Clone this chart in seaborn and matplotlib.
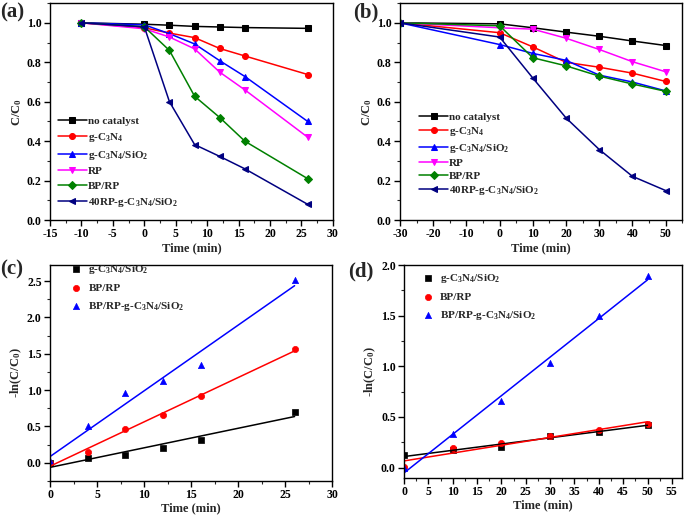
import numpy as np
import pandas as pd
import seaborn as sns
import matplotlib
matplotlib.use("Agg")
import matplotlib.pyplot as plt
from matplotlib.ticker import MultipleLocator

sns.set_theme(style="ticks")
plt.rcParams['font.family'] = ['Liberation Serif', 'DejaVu Serif']
plt.rcParams['font.weight'] = 'bold'
plt.rcParams['axes.labelweight'] = 'bold'
plt.rcParams['axes.unicode_minus'] = False
plt.rcParams['mathtext.fontset'] = 'custom'
plt.rcParams['mathtext.rm'] = 'Liberation Serif:bold'
plt.rcParams['mathtext.it'] = 'Liberation Serif:bold'
plt.rcParams['mathtext.bf'] = 'Liberation Serif:bold'
plt.rcParams['mathtext.default'] = 'rm'

# ---------------- data ----------------
labels_ab = ["no catalyst", "g-C$_3$N$_4$", "g-C$_3$N$_4$/SiO$_2$", "RP", "BP/RP",
             "40RP-g-C$_3$N$_4$/SiO$_2$"]
colors_ab = ["#000000", "#FF0000", "#0000FF", "#FF00FF", "#008000", "#000080"]
markers_ab = ["s", "o", "^", "v", "D", "<"]

time_a = [-10, 0, 4, 8, 12, 16, 26]
a_no_catalyst = [1.0, 0.993, 0.988, 0.982, 0.979, 0.976, 0.972]
a_gcn = [1.0, 0.975, 0.948, 0.925, 0.870, 0.832, 0.738]
a_gcn_sio2 = [1.0, 0.990, 0.945, 0.893, 0.808, 0.728, 0.500]
a_rp = [1.0, 0.970, 0.928, 0.868, 0.750, 0.660, 0.420]
a_bprp = [1.0, 0.980, 0.860, 0.628, 0.520, 0.400, 0.210]
a_40rp = [1.0, 0.980, 0.600, 0.383, 0.323, 0.260, 0.080]

time_b = [-30, 0, 10, 20, 30, 40, 50]
b_no_catalyst = [1.0, 0.995, 0.975, 0.953, 0.932, 0.908, 0.885]
b_gcn = [1.0, 0.950, 0.878, 0.800, 0.775, 0.745, 0.703]
b_gcn_sio2 = [1.0, 0.890, 0.845, 0.810, 0.735, 0.700, 0.655]
b_rp = [1.0, 0.975, 0.968, 0.922, 0.865, 0.803, 0.752]
b_bprp = [1.0, 0.985, 0.823, 0.782, 0.730, 0.690, 0.653]
b_40rp = [1.0, 0.928, 0.720, 0.518, 0.358, 0.222, 0.150]

labels_cd = ["g-C$_3$N$_4$/SiO$_2$", "BP/RP", "BP/RP-g-C$_3$N$_4$/SiO$_2$"]
colors_cd = ["#000000", "#FF0000", "#0000FF"]
markers_cd = ["s", "o", "^"]

time_c = [0, 4, 8, 12, 16, 26]
c_gcn_sio2 = [0.0, 0.06, 0.11, 0.21, 0.32, 0.70]
c_bprp = [0.0, 0.15, 0.46, 0.655, 0.92, 1.56]
c_bprp_gcn = [0.02, 0.51, 0.96, 1.13, 1.35, 2.51]

time_d = [0, 10, 20, 30, 40, 50]
d_gcn_sio2 = [0.12, 0.17, 0.205, 0.31, 0.355, 0.42]
d_bprp = [0.01, 0.19, 0.245, 0.31, 0.37, 0.43]
d_bprp_gcn = [0.0, 0.33, 0.655, 1.03, 1.50, 1.89]

# ---------------- figure ----------------
fig = plt.figure(figsize=(6.85, 5.18), dpi=100)
ax_a = fig.add_axes([0.073, 0.575, 0.413, 0.419])
ax_b = fig.add_axes([0.584, 0.575, 0.412, 0.419])
ax_c = fig.add_axes([0.073, 0.0714, 0.412, 0.417])
ax_d = fig.add_axes([0.590, 0.0778, 0.405, 0.4106])

TICK_FS = 8.5
LAB_FS = 9


def style_axis(ax, xmaj, ymaj):
    for s in ax.spines.values():
        s.set_linewidth(1.0)
        s.set_color("black")
    ax.xaxis.set_major_locator(MultipleLocator(xmaj))
    ax.xaxis.set_minor_locator(MultipleLocator(xmaj / 2))
    ax.yaxis.set_major_locator(MultipleLocator(ymaj))
    ax.yaxis.set_minor_locator(MultipleLocator(ymaj / 2))
    ax.tick_params(which="major", direction="out", length=4, width=1,
                   labelsize=TICK_FS, pad=2, colors="black")
    ax.tick_params(which="minor", direction="out", length=2, width=0.8)
    ax.set_xlabel("Time (min)", fontsize=LAB_FS, fontweight="bold", labelpad=1)


def decay_panel(ax, t, series):
    for lab, col, mk, vals in zip(labels_ab, colors_ab, markers_ab, series):
        df = pd.DataFrame({"t": t, "v": vals})
        ms = 3.6 if mk == "D" else 4.3
        sns.lineplot(data=df, x="t", y="v", ax=ax, color=col, marker=mk,
                     markersize=ms, markeredgecolor=col, linewidth=1.1,
                     label=lab)


decay_panel(ax_a, time_a, [a_no_catalyst, a_gcn, a_gcn_sio2, a_rp, a_bprp, a_40rp])
ax_a.set_xlim(-15, 30)
ax_a.set_ylim(0, 1.1)
style_axis(ax_a, 5, 0.2)
ax_a.set_ylabel("C/C$_0$", fontsize=LAB_FS, labelpad=2)
ax_a.set_yticks([0, 0.2, 0.4, 0.6, 0.8, 1.0])
ax_a.legend(loc="lower left", frameon=False, fontsize=8, handlelength=2.6,
            handletextpad=0.1, labelspacing=0.45, borderaxespad=0.3,
            bbox_to_anchor=(0.0, 0.015))

decay_panel(ax_b, time_b, [b_no_catalyst, b_gcn, b_gcn_sio2, b_rp, b_bprp, b_40rp])
ax_b.set_xlim(-30, 55)
ax_b.set_ylim(0, 1.1)
style_axis(ax_b, 10, 0.2)
ax_b.set_ylabel("C/C$_0$", fontsize=LAB_FS, labelpad=2)
ax_b.set_yticks([0, 0.2, 0.4, 0.6, 0.8, 1.0])
ax_b.legend(loc="lower left", frameon=False, fontsize=8, handlelength=2.6,
            handletextpad=0.1, labelspacing=0.3, borderaxespad=0.3,
            bbox_to_anchor=(0.04, 0.07))


def kinetic_panel(ax, t, series):
    for lab, col, mk, vals in zip(labels_cd, colors_cd, markers_cd, series):
        df = pd.DataFrame({"t": t, "v": vals})
        sns.regplot(data=df, x="t", y="v", ax=ax, ci=None, color=col, marker=mk,
                    scatter_kws={"s": 20, "edgecolor": col, "linewidths": 0.5,
                                 "alpha": 1.0},
                    line_kws={"linewidth": 1.1}, label=lab)


kinetic_panel(ax_c, time_c, [c_gcn_sio2, c_bprp, c_bprp_gcn])
ax_c.set_xlim(0, 30)
ax_c.set_ylim(-0.25, 2.72)
style_axis(ax_c, 5, 0.5)
ax_c.set_ylabel("-ln(C/C$_0$)", fontsize=LAB_FS, labelpad=2)
ax_c.legend(loc="upper left", frameon=False, fontsize=8, handlelength=1.0,
            handletextpad=0.6, labelspacing=0.62, borderaxespad=0.0,
            bbox_to_anchor=(0.057, 1.03), scatterpoints=1)

kinetic_panel(ax_d, time_d, [d_gcn_sio2, d_bprp, d_bprp_gcn])
ax_d.set_xlim(0, 57)
ax_d.set_ylim(-0.1, 2.0)
style_axis(ax_d, 5, 0.5)
ax_d.set_ylabel("-ln(C/C$_0$)", fontsize=LAB_FS, labelpad=2)
ax_d.legend(loc="upper left", frameon=False, fontsize=8, handlelength=1.0,
            handletextpad=0.6, labelspacing=0.65, borderaxespad=0.0,
            bbox_to_anchor=(0.05, 0.99), scatterpoints=1)

for ax in (ax_a, ax_b, ax_c, ax_d):
    for t in ax.get_xticklabels() + ax.get_yticklabels():
        t.set_fontweight("bold")

fig.text(0.0, 0.995, "(a)", fontsize=15, fontweight="bold", va="top", ha="left")
fig.text(0.515, 0.995, "(b)", fontsize=15, fontweight="bold", va="top", ha="left")
fig.text(0.0, 0.50, "(c)", fontsize=15, fontweight="bold", va="top", ha="left")
fig.text(0.508, 0.495, "(d)", fontsize=15, fontweight="bold", va="top", ha="left")

fig.savefig("out.png", dpi=100)
